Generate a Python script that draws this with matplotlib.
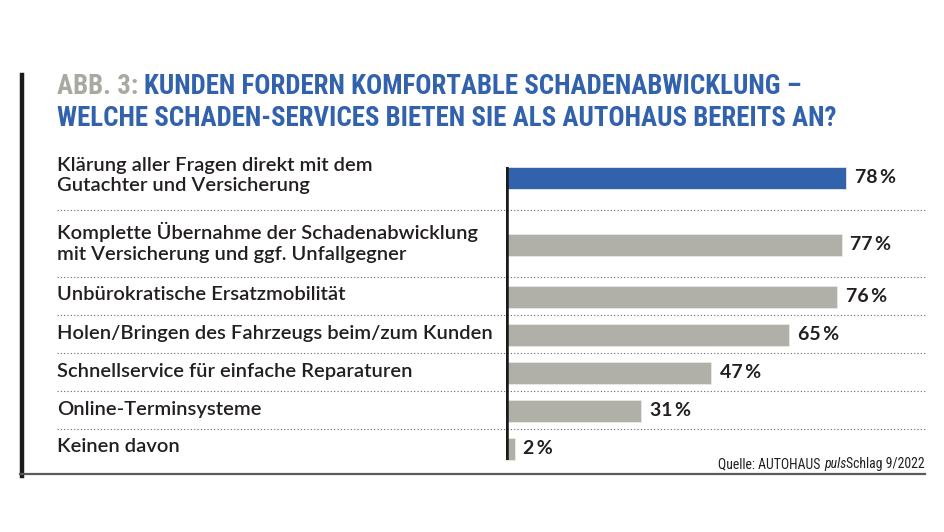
import numpy as np
import matplotlib.pyplot as plt
from matplotlib import font_manager
from matplotlib.transforms import blended_transform_factory
from matplotlib.lines import Line2D

labels = [
    "Klärung aller Fragen direkt mit dem\nGutachter und Versicherung",
    "Komplette Übernahme der Schadenabwicklung\nmit Versicherung und ggf. Unfallgegner",
    "Unbürokratische Ersatzmobilität",
    "Holen/Bringen des Fahrzeugs beim/zum Kunden",
    "Schnellservice für einfache Reparaturen",
    "Online-Terminsysteme",
    "Keinen davon",
]
values = [78, 77, 76, 65, 47, 31, 2]
value_labels = ["78\u2009%", "77\u2009%", "76\u2009%", "65\u2009%", "47\u2009%", "31\u2009%", "2\u2009%"]
highlight = 0

title_tag = "ABB. 3: "
title_1 = "KUNDEN FORDERN KOMFORTABLE SCHADENABWICKLUNG –"
title_2 = "WELCHE SCHADEN-SERVICES BIETEN SIE ALS AUTOHAUS BEREITS AN?"
source_parts = ["Quelle: AUTOHAUS ", "puls", "Schlag 9/2022"]

BLUE = "#3262ab"
BAR_GRAY = "#b1b0a8"
TAG_GRAY = "#a9a9a2"
TEXT = "#231f20"

available = {f.name for f in font_manager.fontManager.ttflist}
narrow = next((f for f in ["Roboto Condensed", "Open Sans Condensed", "Liberation Sans Narrow"]
               if f in available), "DejaVu Sans")
body = ["Lato", "DejaVu Sans"]

W, H = 945, 532
fig = plt.figure(figsize=(W / 100, H / 100), dpi=100)


def fx(x):
    return x / W


def fy(y):
    return 1 - y / H


# row layout: two-line labels get taller rows
lines = [lab.count("\n") + 1 for lab in labels]
heights = np.array([38 + 29 * (n - 1) for n in lines])
edges = np.concatenate([[0], np.cumsum(heights)])
centers = edges[:-1] + heights / 2 + 1

top_px, zero_px, right_px = 143, 506, 925
px_per_pct = 4.36
ax = fig.add_axes([fx(zero_px), fy(top_px + edges[-1]), fx(right_px - zero_px), edges[-1] / H])
ax.set_xlim(0, (right_px - zero_px) / px_per_pct)
ax.set_ylim(edges[-1], 0)
ax.axis("off")

colors = [BLUE if i == highlight else BAR_GRAY for i in range(len(values))]
ax.barh(centers, values, height=22, color=colors, edgecolor="#e8e8e4", linewidth=0.6, zorder=2)
ax.vlines(0, centers[0] - 11, centers[-1] + 11, color="#1a1a1a", lw=4, zorder=3)

for y, v, t in zip(centers, values, value_labels):
    ax.text(v + 2, y, t, va="center", ha="left", fontsize=14, fontweight="bold",
            family=body, color=TEXT)

# dotted separators
x0 = (57 - zero_px) / (right_px - zero_px)
for e in edges[1:-1]:
    ax.axhline(e, xmin=x0, xmax=1, color="#666666", lw=0.8, ls=(0, (1, 2)), clip_on=False, zorder=1)

# category labels
tr = blended_transform_factory(fig.transFigure, ax.transData)
for y, lab in zip(centers, labels):
    ax.text(fx(57), y - 2, lab, transform=tr, va="center", ha="left", fontsize=14.5,
            fontweight="semibold", family=body, color=TEXT, linespacing=1.25)

# title
tkw = dict(fontweight="bold", family=narrow, fontstretch="condensed", va="bottom", ha="left")
t0 = fig.text(fx(57), fy(100), title_tag, fontsize=17, color=TAG_GRAY, **tkw)
t1 = ax.annotate(title_1, xy=(1, 0), xycoords=t0, fontsize=17, color=BLUE,
                 annotation_clip=False, **tkw)
t2 = fig.text(fx(57), fy(132), title_2, fontsize=17, color=BLUE, **tkw)

# source
skw = dict(family=narrow, fontstretch="condensed", color=TEXT, ha="right", va="bottom")
s2 = fig.text(fx(925), fy(471), source_parts[2], fontsize=11.5, **skw)
s1 = ax.annotate(source_parts[1], xy=(0, 0), xycoords=s2, fontsize=11.5, style="italic",
                 annotation_clip=False, **skw)
s0 = ax.annotate(source_parts[0], xy=(0, 0), xycoords=s1, fontsize=11.5,
                 annotation_clip=False, **skw)

# shrink the title and source so they span the same width as in the original
fig.canvas.draw()
r = fig.canvas.get_renderer()
k = (840 - 57) / t2.get_window_extent(r).width
for t in (t0, t1, t2):
    t.set_fontsize(17 * k)
src_w = sum(t.get_window_extent(r).width for t in (s0, s1, s2))
ks = (925 - 718) / src_w
for t in (s0, s1, s2):
    t.set_fontsize(11.5 * ks)

# frame: black bar on the left, grey rule at the bottom
fig.add_artist(Line2D([fx(22), fx(22)], [fy(75), fy(476)], color="#1a1a1a", lw=3.2))
fig.add_artist(Line2D([fx(20), fx(925)], [fy(474), fy(474)], color="#5a5a5a", lw=1.6))

fig.savefig("out.png", dpi=100)
